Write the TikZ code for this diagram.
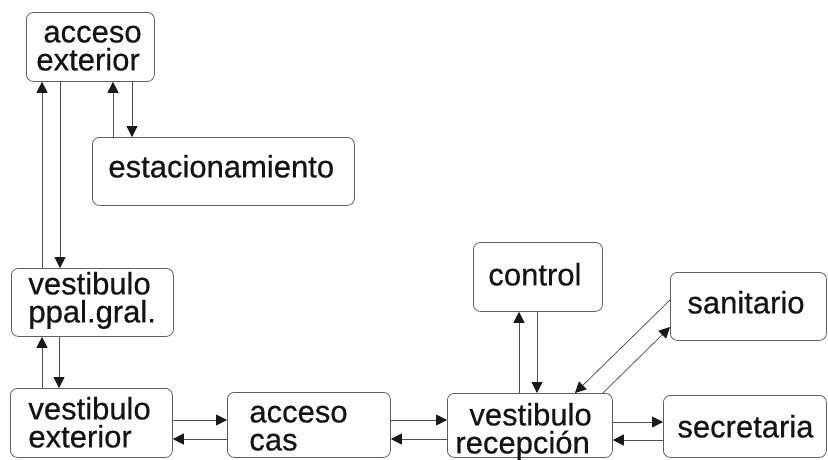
\documentclass[tikz,border=0pt]{standalone}
\usepackage{fontspec}
\setmainfont{Liberation Sans}[FakeBold=0.5]
\usetikzlibrary{arrows.meta}
\definecolor{linec}{HTML}{505050}
\definecolor{boxc}{HTML}{606060}
\definecolor{txtc}{HTML}{151515}
\newcommand{\cellbox}[4]{\parbox[c][#2pt][t]{#1pt}{\rule{0pt}{#3pt}#4}}
\tikzset{
  box/.style={draw=boxc, line width=0.8pt, rounded corners=7pt, inner sep=0pt,
    anchor=north west, text=txtc, font=\fontsize{31pt}{28pt}\selectfont},
  arr/.style={draw=linec, line width=0.75pt, -{Triangle[length=11pt,width=11pt,color=black!90]}}
}
\begin{document}
\begin{tikzpicture}[x=1pt,y=-1pt]
\path[use as bounding box, fill=white] (0,0) rectangle (828,459);

% boxes
\node[box] (ae)  at (26,12)  {\cellbox{128}{69}{30}{\hspace*{17pt}acceso\\\hspace*{10pt}exterior}};
\node[box] (est) at (92,137) {\cellbox{262}{68}{40}{\hspace*{16pt}estacionamiento}};
\node[box] (pp)  at (11,268) {\cellbox{162}{68}{26}{\hspace*{17pt}vestibulo\\\hspace*{17pt}ppal.gral.}};
\node[box] (ve)  at (10,388) {\cellbox{162}{69}{31}{\hspace*{18pt}vestibulo\\\hspace*{18pt}exterior}};
\node[box] (cas) at (227,392){\cellbox{163}{65}{30}{\hspace*{22pt}acceso\\\hspace*{22pt}cas}};
\node[box] (rec) at (447,393){\cellbox{165}{64}{32}{\hspace*{22pt}vestibulo\\\hspace*{8pt}recepción}};
\node[box] (ctl) at (473,242){\cellbox{129}{69}{43}{\hspace*{15pt}control}};
\node[box] (san) at (670,272){\cellbox{156}{68}{41}{\hspace*{17pt}sanitario}};
\node[box] (sec) at (663,395){\cellbox{163}{62}{42}{\hspace*{14pt}secretaria}};

% guide coordinates
\coordinate (x42) at (42,0);
\coordinate (x60) at (60,0);
\coordinate (x59) at (59,0);
\coordinate (x113) at (113,0);
\coordinate (x132) at (132,0);
\coordinate (x519) at (519,0);
\coordinate (x537) at (537,0);
\coordinate (x575) at (575,0);
\coordinate (x603) at (603,0);
\coordinate (y300) at (0,300);
\coordinate (y327) at (0,327);
\coordinate (y420) at (0,420);
\coordinate (y439) at (0,439);
\coordinate (y422) at (0,422);
\coordinate (y440) at (0,440);

% acceso exterior <-> vestibulo ppal
\draw[arr] (pp.north -| x42) -- (ae.south -| x42);
\draw[arr] (ae.south -| x60) -- (pp.north -| x60);
% acceso exterior <-> estacionamiento
\draw[arr] (est.north -| x113) -- (ae.south -| x113);
\draw[arr] (ae.south -| x132) -- (est.north -| x132);
% ppal <-> exterior
\draw[arr] (ve.north -| x42) -- (pp.south -| x42);
\draw[arr] (pp.south -| x59) -- (ve.north -| x59);
% exterior <-> acceso cas
\draw[arr] (ve.east |- y420) -- (cas.west |- y420);
\draw[arr] (cas.west |- y439) -- (ve.east |- y439);
% acceso cas <-> recepcion
\draw[arr] (cas.east |- y420) -- (rec.west |- y420);
\draw[arr] (rec.west |- y439) -- (cas.east |- y439);
% recepcion <-> secretaria
\draw[arr] (rec.east |- y422) -- (sec.west |- y422);
\draw[arr] (sec.west |- y440) -- (rec.east |- y440);
% recepcion <-> control
\draw[arr] (rec.north -| x519) -- (ctl.south -| x519);
\draw[arr] (ctl.south -| x537) -- (rec.north -| x537);
% recepcion <-> sanitario
\draw[arr] (san.west |- y300) -- (rec.north -| x575);
\draw[arr] (rec.north -| x603) -- (san.west |- y327);
\end{tikzpicture}
\end{document}
